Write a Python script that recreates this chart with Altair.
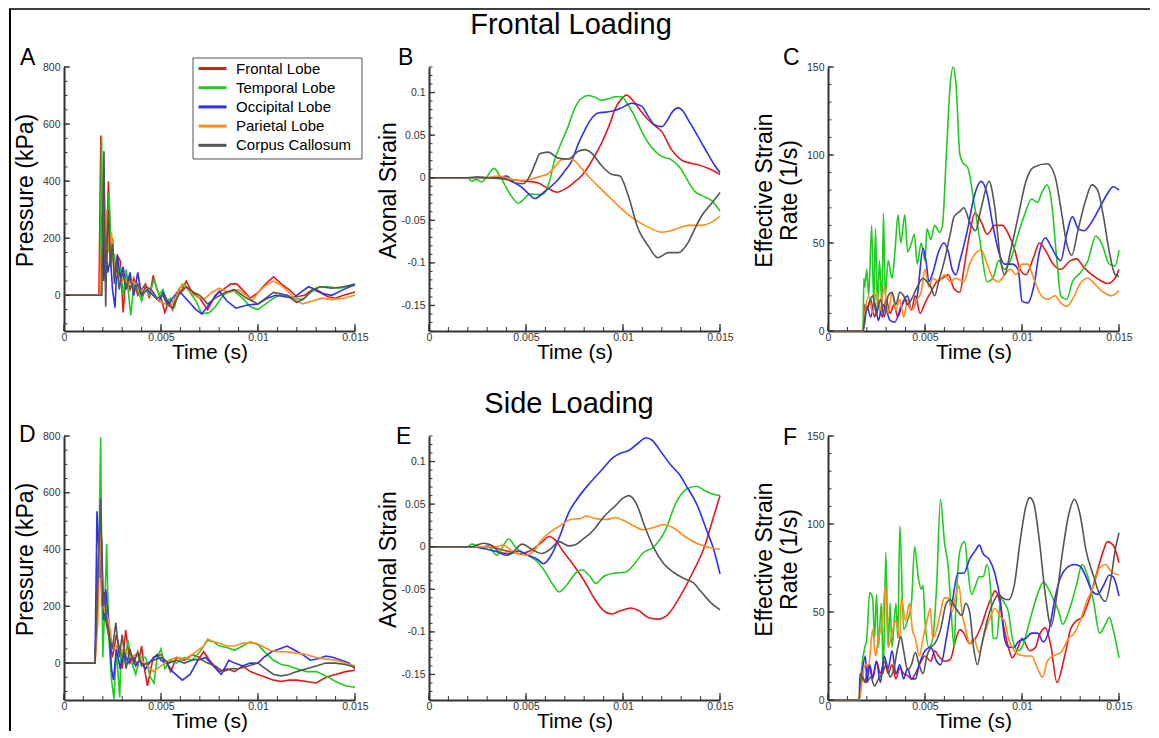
import altair as alt
import pandas as pd

SERIES = ["Frontal Lobe", "Temporal Lobe", "Occipital Lobe", "Parietal Lobe", "Corpus Callosum"]
COLORS = ["#e01b1b", "#1fcc1f", "#2f2ff0", "#ff8c1a", "#555555"]

# ---- time (ms), value pairs ----
A_FRONTAL = [(0,0),(1.8,0),(1.9,560),(1.97,100),(2.05,300),(2.15,50),(2.29,400),(2.4,150),(2.5,200),(2.6,60),(2.75,140),(2.9,120),(3.05,-60),(3.2,80),(3.4,20),(3.6,60),(3.8,0),(4.0,20),(4.2,40),(4.4,-10),(4.6,70),(4.8,20),(5.0,-10),(5.2,-60),(5.4,-20),(5.6,-50),(5.8,10),(6.1,20),(6.3,50),(6.6,10),(7.0,-10),(7.4,-50),(7.8,0),(8.2,20),(8.6,40),(8.9,40),(9.2,20),(9.6,-10),(10.0,10),(10.4,40),(10.8,65),(11.2,40),(11.6,20),(12.0,-5),(12.4,0),(12.8,20),(13.2,10),(13.6,-5),(14.0,-10),(14.4,0),(15.0,12)]
A_TEMPORAL = [(0,0),(1.85,0),(1.94,555),(2.0,150),(2.1,250),(2.2,80),(2.32,360),(2.45,120),(2.6,140),(2.75,60),(2.9,100),(3.05,0),(3.2,90),(3.44,-70),(3.6,40),(3.8,20),(4.0,-20),(4.2,30),(4.4,0),(4.64,55),(4.9,0),(5.1,20),(5.3,-20),(5.5,-10),(5.7,-40),(5.9,20),(6.2,40),(6.5,10),(6.8,-20),(7.1,-65),(7.5,-60),(7.8,-40),(8.2,0),(8.7,20),(9.2,-10),(9.6,-40),(10.0,-50),(10.4,-30),(10.8,-10),(11.1,0),(11.5,0),(11.9,-10),(12.3,-15),(12.7,10),(13.2,30),(13.6,30),(14.2,25),(15.0,35)]
A_OCCIPITAL = [(0,0),(1.85,0),(1.95,150),(1.98,280),(2.05,50),(2.15,150),(2.25,80),(2.4,130),(2.5,20),(2.63,-43),(2.75,140),(2.9,60),(3.05,100),(3.2,20),(3.4,80),(3.6,0),(3.8,80),(4.0,0),(4.3,20),(4.6,0),(4.9,-20),(5.1,10),(5.4,-30),(5.7,0),(6.0,10),(6.4,-20),(6.8,-50),(7.1,-65),(7.5,-30),(8.0,15),(8.4,-20),(8.86,-45),(9.4,-35),(10.0,-30),(10.5,-10),(10.9,0),(11.4,-5),(11.8,-10),(12.2,10),(12.6,30),(13.0,20),(13.4,5),(13.8,0),(14.4,20),(15.0,38)]
A_PARIETAL = [(0,0),(1.85,0),(1.95,200),(2.06,400),(2.15,200),(2.22,300),(2.3,150),(2.45,220),(2.6,60),(2.75,80),(2.9,40),(3.1,60),(3.3,40),(3.5,50),(3.7,40),(3.9,20),(4.1,10),(4.3,30),(4.6,10),(4.9,-20),(5.2,-30),(5.5,-40),(5.8,0),(6.1,40),(6.4,20),(6.7,0),(7.0,-10),(7.3,-10),(7.6,10),(8.0,25),(8.5,10),(9.0,20),(9.4,0),(9.7,-20),(10.0,10),(10.4,35),(10.8,50),(11.2,35),(11.6,10),(12.0,-20),(12.3,-30),(12.8,-20),(13.3,-10),(13.8,-15),(14.4,-10),(15.0,0)]
A_CORPUS = [(0,0),(1.95,0),(2.0,300),(2.06,505),(2.12,100),(2.15,-40),(2.22,200),(2.29,300),(2.38,100),(2.5,180),(2.6,40),(2.7,120),(2.85,20),(3.0,80),(3.2,30),(3.4,60),(3.6,10),(3.8,40),(4.0,0),(4.2,30),(4.5,20),(4.8,-10),(5.1,0),(5.3,-30),(5.6,-45),(5.9,0),(6.3,30),(6.7,10),(7.0,0),(7.4,-30),(7.8,-10),(8.3,10),(8.8,20),(9.4,-10),(10.0,-30),(10.4,-10),(10.8,10),(11.5,0),(12.0,-25),(12.4,-10),(12.8,20),(13.2,30),(13.8,25),(14.4,30),(15.0,40)]

B_FRONTAL = [(0,0),(3.5,0),(4.0,-0.001),(4.5,-0.003),(5.0,-0.004),(5.6,-0.006),(6.1,-0.012),(6.6,-0.017),(7.1,-0.012),(7.6,-0.003),(7.86,0.002),(8.4,0.02),(8.9,0.041),(9.3,0.062),(9.58,0.08),(9.9,0.092),(10.18,0.097),(10.6,0.088),(11.0,0.076),(11.3,0.068),(11.7,0.06),(12.0,0.054),(12.5,0.033),(13.0,0.021),(13.5,0.017),(13.9,0.015),(14.5,0.01),(15.0,0.004)]
B_TEMPORAL = [(0,0),(2.0,0),(2.2,-0.004),(2.45,-0.002),(2.7,-0.005),(2.95,0.0),(3.35,0.011),(3.7,0.0),(4.2,-0.02),(4.6,-0.03),(4.9,-0.025),(5.2,-0.019),(5.6,-0.02),(5.9,-0.019),(6.2,-0.005),(6.48,0.021),(6.8,0.04),(7.17,0.06),(7.45,0.078),(7.69,0.089),(8.0,0.095),(8.2,0.0965),(8.5,0.095),(8.9,0.091),(9.3,0.093),(9.6,0.095),(9.92,0.095),(10.25,0.086),(10.6,0.072),(11.0,0.053),(11.3,0.041),(11.7,0.03),(12.0,0.025),(12.5,0.021),(13.0,0.01),(13.4,-0.006),(13.7,-0.016),(14.05,-0.021),(14.57,-0.027),(15.0,-0.039)]
B_OCCIPITAL = [(0,0),(3.5,0),(4.0,0.002),(4.3,-0.004),(4.7,-0.01),(5.1,-0.018),(5.45,-0.0245),(5.97,-0.016),(6.3,-0.01),(6.66,-0.002),(7.0,0.008),(7.34,0.019),(7.7,0.04),(8.03,0.056),(8.4,0.07),(8.72,0.076),(9.1,0.077),(9.41,0.078),(9.92,0.082),(10.44,0.0875),(10.96,0.084),(11.3,0.072),(11.64,0.062),(12.0,0.06),(12.3,0.068),(12.5,0.076),(12.85,0.082),(13.1,0.078),(13.36,0.068),(13.7,0.055),(14.05,0.041),(14.4,0.027),(14.74,0.014),(15.0,0.006)]
B_PARIETAL = [(0,0),(3.0,0),(3.5,0.002),(4.0,0.0),(4.5,-0.003),(5.0,-0.003),(5.4,-0.001),(5.8,0.002),(6.1,0.004),(6.5,0.013),(6.83,0.021),(7.17,0.022),(7.5,0.02),(7.85,0.011),(8.2,0.002),(8.9,-0.014),(9.58,-0.029),(10.1,-0.04),(10.6,-0.049),(11.3,-0.058),(12.0,-0.064),(12.5,-0.062),(13.0,-0.058),(13.36,-0.056),(14.05,-0.056),(14.5,-0.053),(15.0,-0.045)]
B_CORPUS = [(0,0),(2.0,0),(2.5,0.001),(3.0,0.0),(4.0,-0.002),(4.4,-0.006),(4.85,-0.007),(5.1,-0.002),(5.28,0.006),(5.5,0.018),(5.7,0.028),(6.14,0.03),(6.66,0.023),(7.17,0.022),(7.69,0.031),(8.03,0.033),(8.38,0.029),(8.9,0.014),(9.41,0.004),(9.84,0.002),(10.27,-0.021),(10.78,-0.06),(11.3,-0.08),(11.8,-0.094),(12.33,-0.088),(12.85,-0.088),(13.36,-0.076),(13.7,-0.06),(14.05,-0.045),(14.57,-0.03),(15.0,-0.0175)]

C_FRONTAL = [(0,0),(1.8,0),(1.9,15),(2.0,12),(2.2,18),(2.4,8),(2.6,15),(2.8,8),(3.0,18),(3.2,10),(3.4,15),(3.6,8),(3.8,14),(4.0,18),(4.3,12),(4.5,20),(4.75,10),(5.0,16),(5.3,22),(5.6,28),(5.9,30),(6.2,32),(6.5,24),(6.8,22),(7.0,35),(7.3,55),(7.57,67),(7.9,62),(8.2,55),(8.6,60),(9.0,60),(9.3,55),(9.6,47),(9.9,35),(10.2,32),(10.6,42),(10.9,50),(11.2,46),(11.6,38),(12.0,35),(12.5,40),(12.8,41),(13.2,36),(13.6,32),(14.0,29),(14.4,27),(14.8,30),(15.0,35)]
C_TEMPORAL = [(0,0),(1.8,0),(1.85,30),(1.9,25),(2.0,35),(2.1,20),(2.25,60),(2.36,15),(2.45,58),(2.55,12),(2.65,40),(2.78,15),(2.86,67),(2.95,20),(3.1,40),(3.3,30),(3.45,45),(3.61,66),(3.75,50),(3.96,66),(4.1,45),(4.3,50),(4.45,55),(4.6,38),(4.8,50),(5.0,40),(5.1,58),(5.3,52),(5.5,60),(5.75,56),(5.9,60),(6.1,100),(6.3,140),(6.45,150),(6.6,140),(6.8,100),(7.0,95),(7.2,93),(7.5,75),(7.85,50),(8.2,28),(8.5,30),(8.8,40),(9.1,35),(9.4,40),(9.8,55),(10.1,65),(10.5,75),(10.8,73),(11.0,78),(11.3,83),(11.5,75),(11.8,40),(12.0,20),(12.3,18),(12.6,28),(13.0,33),(13.4,40),(13.8,54),(14.1,50),(14.5,38),(14.8,37),(15.0,46)]
C_OCCIPITAL = [(0,0),(1.8,0),(1.9,5),(2.0,14),(2.2,8),(2.4,16),(2.6,6),(2.8,15),(3.0,12),(3.2,6),(3.44,5),(3.8,15),(4.1,20),(4.3,12),(4.6,20),(4.9,47),(5.05,40),(5.2,28),(5.4,33),(5.7,45),(5.97,50),(6.2,45),(6.4,35),(6.6,32),(6.8,40),(7.2,58),(7.5,75),(7.9,85),(8.2,78),(8.5,60),(8.8,45),(9.1,38),(9.5,38),(9.8,35),(10.0,17),(10.3,16),(10.6,25),(10.9,45),(11.2,53),(11.5,48),(11.8,42),(12.0,40),(12.3,55),(12.6,65),(12.9,58),(13.2,57),(13.6,62),(14.0,70),(14.4,78),(14.7,82),(15.0,80)]
C_PARIETAL = [(0,0),(1.8,0),(1.9,10),(2.1,20),(2.3,10),(2.5,22),(2.7,12),(2.9,25),(3.1,10),(3.3,22),(3.5,12),(3.7,18),(3.9,8),(4.1,17),(4.3,12),(4.6,18),(4.8,22),(5.0,35),(5.2,25),(5.4,30),(5.7,28),(6.0,32),(6.3,28),(6.6,30),(7.0,28),(7.3,38),(7.6,44),(7.9,46),(8.2,38),(8.5,30),(8.8,28),(9.1,32),(9.4,35),(9.7,32),(10.0,38),(10.3,38),(10.6,30),(11.0,20),(11.3,18),(11.7,20),(12.0,16),(12.3,14),(12.7,20),(13.0,27),(13.4,30),(13.8,26),(14.2,22),(14.6,20),(15.0,23)]
C_CORPUS = [(0,0),(1.8,0),(1.9,8),(2.1,15),(2.3,20),(2.5,10),(2.7,18),(2.9,8),(3.1,20),(3.3,22),(3.5,15),(3.7,22),(3.9,20),(4.1,15),(4.3,18),(4.6,25),(4.9,30),(5.1,28),(5.3,25),(5.5,20),(5.7,28),(6.0,40),(6.3,55),(6.5,65),(6.8,68),(7.0,70),(7.3,62),(7.6,57),(7.9,70),(8.3,85),(8.6,70),(8.9,40),(9.1,32),(9.4,45),(9.8,65),(10.2,85),(10.6,93),(11.3,95),(11.7,88),(12.0,70),(12.3,50),(12.56,43),(12.9,58),(13.3,75),(13.6,83),(13.9,80),(14.2,65),(14.5,45),(14.8,32),(15.0,31)]

D_FRONTAL = [(0,0),(1.6,0),(1.75,350),(1.85,480),(1.95,200),(2.05,250),(2.15,150),(2.3,100),(2.5,20),(2.7,100),(2.9,40),(3.0,-20),(3.18,116),(3.4,0),(3.6,20),(3.8,-10),(4.0,60),(4.1,0),(4.3,-80),(4.6,20),(5.0,30),(5.3,0),(5.5,-30),(5.8,20),(6.2,10),(6.6,30),(7.0,20),(7.2,40),(7.5,10),(8.0,-30),(8.4,-20),(8.8,-30),(9.2,-10),(9.6,-30),(10.0,-40),(10.4,-50),(10.8,-60),(11.2,-65),(11.6,-60),(12.0,-60),(12.5,-65),(13.0,-70),(13.5,-50),(14.0,-40),(14.5,-30),(15.0,-25)]
D_TEMPORAL = [(0,0),(1.6,0),(1.8,400),(1.89,795),(1.95,300),(2.0,20),(2.1,200),(2.2,420),(2.3,100),(2.45,-60),(2.58,-128),(2.7,50),(2.87,-120),(2.95,50),(3.1,0),(3.3,80),(3.5,0),(3.7,-40),(3.9,20),(4.2,20),(4.45,-50),(4.64,-70),(4.8,20),(5.0,50),(5.2,-20),(5.5,10),(5.8,0),(6.2,20),(6.6,10),(7.0,40),(7.4,80),(7.7,75),(8.0,60),(8.4,55),(8.8,45),(9.2,60),(9.6,75),(10.0,65),(10.4,35),(10.8,10),(11.2,-5),(11.6,-10),(12.0,-20),(12.5,-30),(13.0,-30),(13.5,-45),(14.0,-65),(14.5,-80),(15.0,-85)]
D_OCCIPITAL = [(0,0),(1.6,0),(1.7,535),(1.85,300),(1.94,440),(2.05,150),(2.15,260),(2.3,150),(2.45,-20),(2.55,-60),(2.7,50),(2.9,-20),(3.1,40),(3.3,0),(3.5,20),(3.7,-10),(3.9,10),(4.2,-20),(4.5,10),(4.8,30),(5.0,10),(5.3,0),(5.6,-30),(6.1,-60),(6.5,-40),(6.9,10),(7.3,20),(7.7,-10),(8.1,-40),(8.5,10),(8.8,0),(9.2,-10),(9.6,0),(10.0,0),(10.3,20),(10.7,40),(11.1,50),(11.5,60),(11.9,45),(12.3,30),(12.7,10),(13.1,15),(13.5,25),(13.9,20),(14.3,10),(14.7,0),(15.0,-20)]
D_PARIETAL = [(0,0),(1.6,0),(1.75,150),(1.86,510),(1.95,250),(2.1,180),(2.2,175),(2.35,130),(2.5,50),(2.7,60),(2.9,40),(3.1,50),(3.4,20),(3.7,30),(4.0,10),(4.3,-10),(4.6,-30),(5.0,-10),(5.4,10),(5.8,20),(6.2,15),(6.6,30),(7.0,50),(7.2,60),(7.4,85),(7.7,75),(8.0,70),(8.4,60),(8.8,60),(9.2,70),(9.6,72),(9.9,70),(10.2,60),(10.6,45),(11.0,40),(11.5,40),(12.0,35),(12.5,30),(13.0,20),(13.5,15),(14.0,10),(14.5,0),(15.0,-10)]
D_CORPUS = [(0,0),(1.6,0),(1.75,300),(1.89,580),(2.0,200),(2.1,250),(2.2,150),(2.3,100),(2.5,50),(2.67,143),(2.85,20),(3.0,100),(3.2,-20),(3.4,50),(3.6,0),(3.8,40),(4.0,-10),(4.3,0),(4.6,10),(5.0,20),(5.4,0),(5.8,10),(6.2,0),(6.6,10),(7.0,15),(7.4,0),(7.8,-10),(8.2,-30),(8.6,-20),(9.0,-20),(9.5,-10),(10.0,0),(10.4,-20),(10.8,-40),(11.2,-45),(11.6,-40),(12.0,-30),(12.5,-20),(13.0,-10),(13.5,0),(14.0,0),(14.5,-5),(15.0,-15)]

E_FRONTAL = [(0,0),(3.0,0),(3.5,-0.002),(4.0,-0.005),(4.7,-0.008),(5.2,-0.005),(5.8,0.005),(6.2,0.012),(6.5,0.008),(6.9,-0.005),(7.4,-0.02),(8.0,-0.04),(8.5,-0.06),(9.0,-0.075),(9.4,-0.079),(9.9,-0.075),(10.4,-0.072),(10.8,-0.075),(11.3,-0.083),(11.8,-0.085),(12.3,-0.08),(12.9,-0.06),(13.6,-0.03),(14.2,0.0),(14.6,0.03),(15.0,0.06)]
E_TEMPORAL = [(0,0),(2.0,0),(2.2,0.003),(2.5,0.001),(2.8,-0.002),(3.0,0.002),(3.5,-0.01),(3.8,0.0),(4.1,0.009),(4.5,-0.002),(5.1,-0.01),(5.6,-0.018),(6.0,-0.03),(6.4,-0.045),(6.7,-0.053),(7.1,-0.045),(7.6,-0.03),(7.9,-0.027),(8.3,-0.035),(8.6,-0.043),(9.0,-0.035),(9.6,-0.031),(10.1,-0.03),(10.6,-0.02),(11.0,-0.008),(11.6,0.0),(12.2,0.02),(12.7,0.05),(13.3,0.068),(13.8,0.071),(14.2,0.066),(14.6,0.062),(15.0,0.06)]
E_OCCIPITAL = [(0,0),(2.2,0),(3.0,-0.003),(3.5,-0.006),(4.0,-0.01),(4.6,-0.005),(5.1,-0.01),(5.6,-0.015),(5.9,-0.02),(6.3,-0.01),(6.7,0.01),(7.2,0.04),(7.7,0.058),(8.3,0.075),(8.9,0.09),(9.5,0.105),(9.9,0.11),(10.3,0.113),(10.7,0.12),(11.2,0.128),(11.5,0.125),(12.0,0.11),(12.5,0.095),(12.9,0.085),(13.3,0.07),(13.8,0.05),(14.3,0.02),(14.7,-0.005),(15.0,-0.032)]
E_PARIETAL = [(0,0),(3.5,0),(3.8,0.002),(4.3,-0.005),(5.0,-0.01),(5.4,-0.005),(5.8,0.008),(6.3,0.018),(6.8,0.025),(7.3,0.032),(7.8,0.033),(8.1,0.036),(8.6,0.033),(9.1,0.032),(9.6,0.034),(10.1,0.03),(10.6,0.024),(11.0,0.02),(11.5,0.022),(12.1,0.026),(12.6,0.022),(13.2,0.012),(13.8,0.004),(14.3,0.0),(15.0,-0.003)]
E_CORPUS = [(0,0),(2.2,0),(2.8,0.004),(3.2,0.002),(3.7,-0.007),(4.2,-0.008),(4.8,0.003),(5.3,-0.003),(5.8,-0.008),(6.3,-0.002),(6.7,0.006),(7.2,0.001),(7.5,0.002),(8.0,0.01),(8.5,0.02),(9.0,0.035),(9.6,0.048),(10.0,0.057),(10.3,0.06),(10.7,0.05),(11.1,0.025),(11.6,-0.002),(12.1,-0.02),(12.6,-0.03),(13.2,-0.038),(13.6,-0.042),(14.0,-0.052),(14.5,-0.065),(15.0,-0.074)]

F_FRONTAL = [(0,0),(1.6,0),(1.75,15),(1.9,10),(2.1,20),(2.3,12),(2.5,22),(2.7,15),(2.9,22),(3.1,15),(3.3,20),(3.5,12),(3.7,18),(3.9,15),(4.1,14),(4.3,12),(4.5,15),(4.8,22),(5.0,25),(5.3,22),(5.5,28),(5.7,25),(6.0,22),(6.3,23),(6.6,35),(6.8,40),(7.0,38),(7.3,32),(7.6,35),(7.9,42),(8.2,52),(8.5,60),(8.6,62),(8.8,58),(9.0,45),(9.3,30),(9.5,24),(9.8,30),(10.0,35),(10.4,28),(10.7,30),(10.9,37),(11.2,41),(11.5,30),(11.8,10),(12.2,25),(12.5,40),(12.8,45),(13.1,47),(13.4,55),(13.8,70),(14.2,85),(14.4,90),(14.7,88),(15.0,78)]
F_TEMPORAL = [(0,0),(1.6,0),(1.75,20),(1.9,30),(2.0,35),(2.15,61),(2.3,58),(2.4,35),(2.5,60),(2.6,30),(2.75,55),(2.85,15),(2.98,84),(3.1,30),(3.2,55),(3.3,30),(3.5,55),(3.6,35),(3.7,99),(3.9,40),(4.1,45),(4.3,55),(4.47,87),(4.65,70),(4.8,63),(4.9,65),(5.0,45),(5.2,30),(5.4,35),(5.6,65),(5.8,114),(6.0,90),(6.2,75),(6.35,50),(6.5,30),(6.6,55),(6.8,85),(7.05,90),(7.2,75),(7.4,60),(7.6,65),(7.8,70),(8.0,70),(8.2,77),(8.4,60),(8.5,35),(8.7,35),(8.9,58),(9.1,55),(9.3,50),(9.5,35),(9.8,28),(10.0,30),(10.4,45),(10.8,60),(11.1,67),(11.5,60),(11.9,50),(12.1,43),(12.4,50),(12.8,65),(13.1,77),(13.4,70),(13.7,55),(14.0,38),(14.3,43),(14.5,47),(14.7,40),(15.0,24)]
F_OCCIPITAL = [(0,0),(1.6,0),(1.75,15),(1.93,25),(2.0,10),(2.15,20),(2.3,13),(2.5,22),(2.7,10),(2.9,25),(3.1,18),(3.3,28),(3.5,15),(3.7,20),(3.9,12),(4.1,18),(4.3,12),(4.5,12),(4.7,20),(5.0,28),(5.3,30),(5.6,22),(5.8,20),(6.1,35),(6.4,55),(6.7,72),(7.0,72),(7.3,80),(7.6,85),(7.8,88),(8.0,83),(8.3,80),(8.6,72),(8.9,55),(9.1,35),(9.3,30),(9.6,30),(9.8,33),(10.2,35),(10.5,38),(10.8,38),(11.1,33),(11.4,40),(11.7,58),(12.0,70),(12.3,75),(12.7,77),(13.0,76),(13.3,70),(13.6,62),(13.9,60),(14.2,65),(14.5,71),(14.7,70),(15.0,59)]
F_PARIETAL = [(0,0),(1.6,0),(1.75,10),(1.9,20),(2.1,20),(2.3,40),(2.45,25),(2.6,35),(2.8,45),(2.96,65),(3.1,30),(3.3,38),(3.5,45),(3.7,35),(3.78,58),(4.0,45),(4.2,55),(4.35,40),(4.5,35),(4.7,25),(4.9,35),(5.1,45),(5.28,52),(5.4,35),(5.6,40),(5.8,50),(6.0,58),(6.2,58),(6.4,50),(6.6,60),(6.75,65),(6.9,50),(7.1,40),(7.3,32),(7.5,35),(7.8,27),(8.0,35),(8.3,45),(8.6,52),(8.9,47),(9.1,45),(9.3,35),(9.5,30),(9.8,26),(10.2,25),(10.5,25),(10.8,18),(11.06,13),(11.3,22),(11.6,25),(12.0,27),(12.4,35),(12.7,38),(13.0,45),(13.3,55),(13.7,65),(14.0,75),(14.3,77),(14.6,73),(15.0,71)]
F_CORPUS = [(0,0),(1.6,0),(1.65,15),(1.8,12),(2.0,10),(2.2,13),(2.4,8),(2.6,12),(2.8,15),(3.0,20),(3.2,13),(3.4,18),(3.6,30),(3.75,36),(3.9,28),(4.1,17),(4.3,20),(4.5,27),(4.7,20),(4.9,15),(5.1,25),(5.3,30),(5.5,32),(5.8,40),(6.1,55),(6.3,57),(6.6,52),(6.9,48),(7.1,55),(7.3,50),(7.5,30),(7.7,20),(7.9,30),(8.2,45),(8.5,55),(8.8,60),(9.0,58),(9.3,57),(9.6,65),(9.9,90),(10.2,110),(10.4,115),(10.6,112),(10.9,90),(11.2,60),(11.5,42),(11.8,60),(12.1,85),(12.4,105),(12.7,114),(13.0,105),(13.3,85),(13.7,70),(14.0,60),(14.3,56),(14.6,70),(14.8,85),(15.0,95)]

# tick values
X_MAJOR = [0, 0.005, 0.01, 0.015]
X_MINOR = [i / 1000 for i in range(16)]
P_MAJOR = [0, 200, 400, 600, 800]
P_MINOR = list(range(-100, 801, 50))
S_MAJOR = [-0.15, -0.1, -0.05, 0, 0.05, 0.1]
S_MINOR = [i / 100 for i in range(-18, 14)]
R_MAJOR = [0, 50, 100, 150]
R_MINOR = list(range(0, 151, 10))

PANELS = {
    "A": [A_FRONTAL, A_TEMPORAL, A_OCCIPITAL, A_PARIETAL, A_CORPUS],
    "B": [B_FRONTAL, B_TEMPORAL, B_OCCIPITAL, B_PARIETAL, B_CORPUS],
    "C": [C_FRONTAL, C_TEMPORAL, C_OCCIPITAL, C_PARIETAL, C_CORPUS],
    "D": [D_FRONTAL, D_TEMPORAL, D_OCCIPITAL, D_PARIETAL, D_CORPUS],
    "E": [E_FRONTAL, E_TEMPORAL, E_OCCIPITAL, E_PARIETAL, E_CORPUS],
    "F": [F_FRONTAL, F_TEMPORAL, F_OCCIPITAL, F_PARIETAL, F_CORPUS],
}

FONT = "Liberation Sans"
AX = "#333333"
W = 291
H = 264


def frame(key):
    rows = []
    for si, pts in enumerate(PANELS[key]):
        for i, (ms, v) in enumerate(pts):
            rows.append({"series": SERIES[si], "s": si, "i": i, "t": ms / 1000.0, "v": v})
    return pd.DataFrame(rows)


def panel(key, ytitle, ydom, ymaj, ymin, yexpr, interp, ytx, letter_dx, letter_dy,
          legend=False, heading=None, border=False):
    xenc = alt.X("t:Q", scale=alt.Scale(domain=[0, 0.015], nice=False, zero=False),
                 axis=alt.Axis(values=X_MAJOR, format=".3~f", title="Time (s)",
                               titleFontSize=21, titleY=27, titleBaseline="alphabetic",
                               labelPadding=1, labelFlush=False))
    yenc = alt.Y("v:Q", scale=alt.Scale(domain=ydom, nice=False, zero=False),
                 axis=alt.Axis(values=ymaj, labelExpr=yexpr, title=ytitle,
                               titleFontSize=23, titleX=ytx, titleY=123,
                               titleBaseline="alphabetic", titleLineHeight=25,
                               titleAlign="center", labelPadding=4))
    if legend:
        leg = alt.Legend(title=None, orient="none", legendX=133, legendY=-7,
                         padding=0, labelFontSize=15, labelFont=FONT, labelColor="black",
                         symbolType="M-1,0H3", symbolStrokeWidth=3, symbolSize=196,
                         labelOffset=22, rowPadding=2.2)
        color = alt.Color("series:N", scale=alt.Scale(domain=SERIES, range=COLORS), legend=leg)
    else:
        color = alt.Color("series:N", scale=alt.Scale(domain=SERIES, range=COLORS), legend=None)

    lines = alt.Chart(frame(key)).mark_line(strokeWidth=1.6, interpolate=interp).encode(
        x=xenc, y=yenc, color=color, order=alt.Order("i:Q"))

    xmaj = alt.Chart(pd.DataFrame({"t": X_MAJOR})).mark_rule(color=AX, strokeWidth=1.3).encode(
        x=xenc, y=alt.value(H), y2=alt.value(H - 7))
    xmin = alt.Chart(pd.DataFrame({"t": X_MINOR})).mark_rule(color=AX, strokeWidth=1).encode(
        x=xenc, y=alt.value(H), y2=alt.value(H - 4))
    ymj = alt.Chart(pd.DataFrame({"v": ymaj})).mark_rule(color=AX, strokeWidth=1.3).encode(
        y=yenc, x=alt.value(0), x2=alt.value(6))
    ymn = alt.Chart(pd.DataFrame({"v": ymin})).mark_rule(color=AX, strokeWidth=1).encode(
        y=yenc, x=alt.value(0), x2=alt.value(3.5))

    letter = alt.Chart(pd.DataFrame({"lab": [key]})).mark_text(
        font=FONT, fontSize=23, align="left", baseline="alphabetic", color="black").encode(
        text="lab:N", x=alt.value(letter_dx), y=alt.value(letter_dy))

    layers = [lines]
    if legend:
        box = alt.Chart(pd.DataFrame({"k": [0]})).mark_rect(
            fill="white", stroke="#555555", strokeWidth=1).encode(
            x=alt.value(129), x2=alt.value(298), y=alt.value(-9), y2=alt.value(92))
        layers.append(box)
    layers += [xmin, xmaj, ymn, ymj, letter]
    if heading is not None:
        head = alt.Chart(pd.DataFrame({"lab": [heading[0]]})).mark_text(
            font=FONT, fontSize=29, align="center", baseline="alphabetic", color="black").encode(
            text="lab:N", x=alt.value(heading[1]), y=alt.value(heading[2]))
        layers.append(head)
    if border:
        vline = alt.Chart(pd.DataFrame({"k": [0]})).mark_rule(color="black", strokeWidth=2).encode(
            x=alt.value(-54), y=alt.value(-58), y2=alt.value(664))
        hline = alt.Chart(pd.DataFrame({"k": [0]})).mark_rule(color="black", strokeWidth=1.5).encode(
            x=alt.value(-55), x2=alt.value(1086), y=alt.value(-58))
        layers += [vline, hline]
    return alt.layer(*layers).properties(width=W, height=H)


def spacer(w):
    return alt.Chart(pd.DataFrame({"k": [0]})).mark_point(opacity=0).encode(
        x=alt.value(0), y=alt.value(0)).properties(width=w, height=H)


NEG = "replace(format(datum.value, '.2~f'), '\u2212', '-')"
PLAIN = "format(datum.value, 'd')"

pA = panel("A", "Pressure (kPa)", [-125, 800], P_MAJOR, P_MINOR, PLAIN, "linear", -32, -44, -2,
           legend=True, border=True)
pB = panel("B", "Axonal Strain", [-0.18, 0.13], S_MAJOR, S_MINOR, NEG, "monotone", -34, -31, -2,
           heading=("Frontal Loading", 142, -33))
pC = panel("C", ["Effective Strain", "Rate (1/s)"], [0, 150], R_MAJOR, R_MINOR, PLAIN, "monotone", -57, -45, -2)
pD = panel("D", "Pressure (kPa)", [-130, 800], P_MAJOR, P_MINOR, PLAIN, "linear", -32, -45, 6)
pE = panel("E", "Axonal Strain", [-0.18, 0.13], S_MAJOR, S_MINOR, NEG, "monotone", -34, -33, 8,
           heading=("Side Loading", 140, -23))
pF = panel("F", ["Effective Strain", "Rate (1/s)"], [0, 150], R_MAJOR, R_MINOR, PLAIN, "monotone", -57, -45, 9)

chart = alt.concat(
    pA, spacer(74), pB, spacer(108), pC,
    pD, spacer(74), pE, spacer(108), pF,
    columns=5, spacing={"row": 105, "column": 0}, bounds="flush",
).resolve_scale(color="independent").properties(padding=0).configure_view(
    strokeWidth=0).configure_axis(
    domainColor=AX, domainWidth=2, ticks=False, grid=False,
    labelFont=FONT, labelFontSize=10.5, labelColor="#333333",
    titleFont=FONT, titleFontWeight="normal", titleColor="black")

chart.save("out.html", embed_options={"renderer": "svg", "actions": False})
